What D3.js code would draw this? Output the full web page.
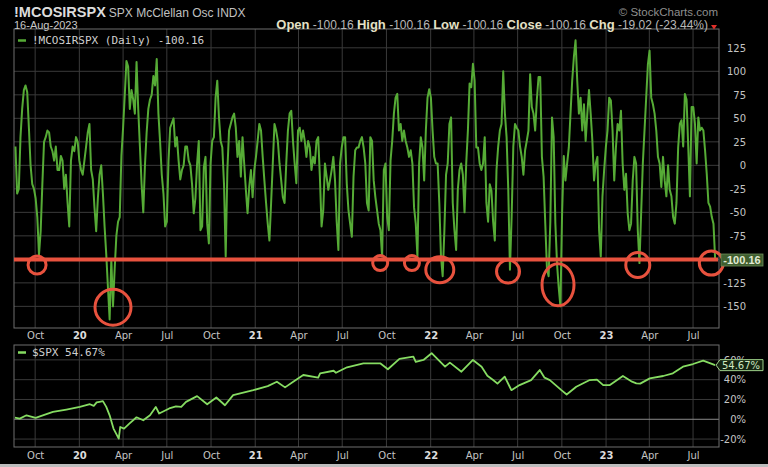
<!DOCTYPE html>
<head>
  <meta charset="utf-8" />
  <script src="https://d3js.org/d3.v7.min.js"></script>
  <style>
    body { margin: 0; background: #000; }
    svg { display: block; }
  </style>
</head>

<body>
  <div id="chart"></div>

  <script>
    // McClellan oscillator, two readings a week from 21-Aug-2019 to 16-Aug-2023
    const oscStart = "2019-08-21";
    const oscValues = [
      20, -30, -25, 30, 60, 80, 85, 78, 40, 0,
      -20, -25, -35, -55, -95, -70, -20, 25, 30, 37,
      35, 20, 15, 5, 20, -5, -5, 10, 5, -25,
      -10, -40, -65, 5, 20, 15, 30, 25, 5, -5,
      -10, 5, 20, 35, 44, -5, -15, -45, -70, -35,
      -10, 0, -30, -65, -95, -130, -164, -100, -150, -110,
      -75, -60, -55, 10, 40, 75, 111, 105, 60, 80,
      70, 55, 110, 60, 20, -20, -50, 0, 35, 60,
      70, 75, 95, 85, 113, 55, 25, -10, -30, -65,
      -60, 5, 40, 45, 50, 20, 30, 5, -15, -5,
      0, 20, 20, 5, 0, -20, -51, -35, 2, 26,
      -69, -65, -2, 9, -62, -83, 2, 26, 30, 72,
      90, 51, 26, 19, -20, -97, -5, 37, 44, 51,
      55, 40, 9, 26, -12, 30, 2, -26, -51, -23,
      -5, -34, -5, 9, 26, 44, 37, 9, -16, -40,
      -62, -80, -40, 2, 44, 37, 26, 2, -16, -34,
      -40, 2, 37, 55, 58, 26, 2, -19, 37, 40,
      26, 37, 26, 9, 26, 19, -5, 9, 2, 26,
      30, -12, -65, -48, 2, -12, -26, -16, -5, 9,
      -16, -60, -90, 2, 19, 30, 30, -20, -48, -62,
      -76, -12, 16, 19, 19, 26, 30, 19, 2, -40,
      -48, 30, 26, -16, -34, -48, -62, -69, -97, -5,
      2, -55, -69, 5, 26, 55, 72, 76, 37, 44,
      26, 37, 26, 19, 9, 16, 2, -45, -62, -97,
      2, 30, 19, -16, 37, 72, 81, 72, 37, 9,
      2, 2, -40, -97, -118, -70, -10, 2, 44, 51,
      -40, -69, -90, -26, -5, 2, -10, -50, 2, 37,
      87, 83, 108, 90, 19, 19, 2, -5, 2, 30,
      -40, -60, -20, -27, -60, -80, -5, 20, 37, 44,
      100, 55, 30, -26, -111, -55, 20, 44, 40, 37,
      20, 9, -10, 16, 26, 37, 97, 62, 55, 37,
      70, 94, 94, 9, -12, -62, -110, -118, -60, 51,
      30, -62, -105, -130, -150, -51, 10, -16, 2, 19,
      55, 90, 115, 133, 90, 55, 72, 37, 65, 26,
      55, 80, 55, 26, -16, 2, 9, -69, -97, -33,
      -5, 19, 37, 72, 69, 37, -16, 19, 44, 37,
      58, 2, -26, -9, -51, -69, -62, -16, 9, 2,
      -69, -104, -51, 2, 37, 72, 107, 122, 72, 65,
      55, 37, 9, 2, -23, 9, -16, -33, 0, -26,
      -33, -55, -62, -40, 19, 44, 48, 20, 76, 70,
      20, -33, 62, 62, 44, 2, 51, 37, 40, 37,
      16, -9, -40, -44, -55, -62, -100.16
    ];

    // $SPX, % change since the start of the chart
    const spxDates = [
      "2019-08-20", "2019-08-30", "2019-09-13", "2019-10-02", "2019-10-17", "2019-11-07",
      "2019-12-05", "2020-01-02", "2020-01-23", "2020-01-31", "2020-02-06", "2020-02-12",
      "2020-02-19", "2020-02-26", "2020-03-04", "2020-03-12", "2020-03-23", "2020-03-26",
      "2020-04-03", "2020-04-14", "2020-04-29", "2020-05-13", "2020-05-27", "2020-06-08",
      "2020-06-15", "2020-07-06", "2020-07-20", "2020-07-31", "2020-08-10", "2020-09-02",
      "2020-09-23", "2020-10-12", "2020-10-30", "2020-11-16", "2020-12-28", "2021-01-27",
      "2021-02-15", "2021-03-04", "2021-03-21", "2021-04-11", "2021-05-12", "2021-05-16",
      "2021-06-13", "2021-06-18", "2021-07-11", "2021-08-14", "2021-09-18", "2021-10-04",
      "2021-10-28", "2021-11-26", "2021-12-01", "2021-12-17", "2022-01-03", "2022-01-17",
      "2022-01-31", "2022-02-10", "2022-03-06", "2022-03-30", "2022-04-17", "2022-04-29",
      "2022-05-11", "2022-05-20", "2022-06-04", "2022-06-18", "2022-07-05", "2022-07-29",
      "2022-08-16", "2022-08-26", "2022-09-06", "2022-09-30", "2022-10-11", "2022-10-31",
      "2022-11-28", "2022-12-13", "2022-12-26", "2023-01-09", "2023-02-05", "2023-02-24",
      "2023-03-05", "2023-03-13", "2023-04-02", "2023-04-30", "2023-05-20", "2023-06-10",
      "2023-07-01", "2023-07-22", "2023-08-16"
    ];
    const spxPct = [
      1.7, 0.7, 4, 1.5, 4, 7.4,
      9.8, 12.5, 15.2, 13.5, 17, 17.6,
      18.3, 12.5, 4, -9.4, -19.6, -7.8,
      -9.4, -4.4, 2, -1, 4, 12.5,
      5.8, 10.9, 13, 12.5, 17.6, 23.4,
      15.2, 22, 14.2, 24.4, 29.4, 33.5,
      37.9, 32.2, 37.9, 44.7, 42, 46.4,
      49, 47, 52.5, 56.5, 56.5, 50.5,
      61, 63.2, 58, 59.9, 66.7, 59.9,
      53.1, 57.2, 48, 59.9, 53.1, 44,
      39.6, 36, 43, 29.4, 34.5, 39.6,
      49.7, 42, 39.6, 29.4, 25, 32.8,
      39.6, 40, 34.5, 34.5, 43.7, 38,
      36.2, 36, 41.3, 43.7, 46.4, 53.1,
      55.8, 59.2, 54.67
    ];

    // hand drawn red circles round the oversold lows
    const markDates = ["2019-10-05", "2020-03-11", "2021-09-18", "2021-11-23", "2022-01-20",
                       "2022-06-11", "2022-09-23", "2023-03-08", "2023-08-08"];
    const markValues = [-106, -151, -104, -104, -111, -113, -127, -106, -104];

    const oscTicks = [125, 100, 75, 50, 25, 0, -25, -50, -75, -100, -125, -150];
    const oscLabels = [125, 100, 75, 50, 25, 0, -25, -50, -75, -125, -150];
    const spxTicks = [60, 40, 20, 0, -20];
    const lastOsc = -100.16;
    const lastSpx = 54.67;

    const width = 768, height = 467;
    const left = 14, right = 719;
    const top1 = 29, bot1 = 328, top2 = 345, bot2 = 447;

    const parse = d3.timeParse("%Y-%m-%d");
    const t0 = parse(oscStart);
    // 84 hours = half a week between readings
    const osc = oscValues.map((v, i) => ({ date: d3.timeHour.offset(t0, 84 * i), v: v }));
    const spx = spxDates.map((d, i) => ({ date: parse(d), v: spxPct[i] }));

    const x = d3.scaleTime()
      .domain([parse("2019-08-18"), parse("2023-08-24")])
      .range([left, right]);
    const yOsc = d3.scaleLinear().domain([-173, 145]).range([bot1, top1]);
    const ySpx = d3.scaleLinear().domain([-28, 75]).range([bot2, top2]);

    const quarters = d3.timeMonth.every(3).range(parse("2019-10-01"), parse("2023-08-01"));
    const fmtQ = d => d.getMonth() === 0 ? d3.timeFormat("%y")(d) : d3.timeFormat("%b")(d);

    const svg = d3.select("#chart").append("svg")
      .attr("width", width).attr("height", height)
      .style("background", "#000");

    const gridColor = "#3a3a3a", frameColor = "#6e6e6e", labelColor = "#c4c4c4";

    // grids for both panels
    function grid(yTop, yBot, yScale, ticks) {
      const g = svg.append("g");
      g.selectAll(".v").data(quarters).join("line")
        .attr("x1", d => x(d)).attr("x2", d => x(d))
        .attr("y1", yTop).attr("y2", yBot)
        .attr("stroke", gridColor).attr("stroke-width", 1);
      g.selectAll(".h").data(ticks).join("line")
        .attr("x1", left).attr("x2", right)
        .attr("y1", d => yScale(d)).attr("y2", d => yScale(d))
        .attr("stroke", d => (yScale === ySpx && d === 0) ? "#8a8a8a" : gridColor)
        .attr("stroke-width", 1);
      g.append("rect")
        .attr("x", left).attr("y", yTop)
        .attr("width", right - left).attr("height", yBot - yTop)
        .attr("fill", "none").attr("stroke", frameColor);
    }
    grid(top1, bot1, yOsc, oscTicks);
    grid(top2, bot2, ySpx, spxTicks);

    // oscillator line
    svg.append("path")
      .datum(osc)
      .attr("fill", "none")
      .attr("stroke", "#56ab36")
      .attr("stroke-width", 2)
      .attr("stroke-linejoin", "round")
      .attr("d", d3.line().x(d => x(d.date)).y(d => yOsc(d.v)));

    // spx line
    svg.append("path")
      .datum(spx)
      .attr("fill", "none")
      .attr("stroke", "#86dc62")
      .attr("stroke-width", 1.8)
      .attr("stroke-linejoin", "round")
      .attr("d", d3.line().x(d => x(d.date)).y(d => ySpx(d.v)));

    // red annotations
    const red = "#e8523e";
    svg.append("line")
      .attr("x1", left).attr("x2", right - 1)
      .attr("y1", yOsc(lastOsc)).attr("y2", yOsc(lastOsc))
      .attr("stroke", red).attr("stroke-width", 4);

    const markRx = [9, 18, 7.5, 7.5, 14, 11.5, 16, 12, 12];
    const markRy = [9, 18, 7.5, 7.5, 13, 11.5, 21, 12.5, 12];
    svg.selectAll(".mark")
      .data(markDates)
      .join("ellipse")
      .attr("cx", d => x(parse(d)))
      .attr("cy", (d, i) => yOsc(markValues[i]))
      .attr("rx", (d, i) => markRx[i])
      .attr("ry", (d, i) => markRy[i])
      .attr("fill", "none")
      .attr("stroke", red)
      .attr("stroke-width", 3);

    // axes
    function xAxis(yPos, pad) {
      const g = svg.append("g")
        .attr("transform", "translate(0," + yPos + ")")
        .call(d3.axisBottom(x).tickValues(quarters).tickFormat(fmtQ).tickSize(0).tickPadding(pad));
      g.select(".domain").remove();
      g.selectAll("text")
        .attr("fill", d => d.getMonth() === 0 ? "#dcdcdc" : labelColor)
        .style("font-weight", d => d.getMonth() === 0 ? "bold" : "normal")
        .style("font-family", "DejaVu Sans")
        .style("font-size", "10px");
    }
    xAxis(bot1, 4);
    xAxis(bot2, 5);

    function yAxis(yScale, ticks, fmt) {
      const g = svg.append("g")
        .attr("transform", "translate(" + right + ",0)")
        .call(d3.axisRight(yScale).tickValues(ticks).tickFormat(fmt).tickSize(0));
      g.select(".domain").remove();
      g.selectAll("text")
        .attr("x", 27)
        .attr("text-anchor", "end")
        .attr("fill", labelColor)
        .style("font-family", "DejaVu Sans")
        .style("font-size", "10px");
    }
    yAxis(yOsc, oscLabels, d => d);
    yAxis(ySpx, spxTicks, d => d + "%");

    // last value tags
    const yl = yOsc(lastOsc);
    svg.append("rect")
      .attr("x", 721).attr("y", yl - 5.5).attr("width", 42).attr("height", 12)
      .attr("fill", "#3f5e2f").attr("stroke", "#6f8f5a").attr("stroke-width", 0.8);
    svg.append("text")
      .attr("x", 742).attr("y", yl + 4)
      .attr("text-anchor", "middle")
      .attr("fill", "#e2ead4")
      .style("font-family", "Liberation Sans").style("font-weight", "bold").style("font-size", "11px")
      .text(lastOsc.toFixed(2));

    const ys = ySpx(lastSpx);
    svg.append("path")
      .attr("d", d3.line()([[716, ys], [720, ys - 5.5], [763, ys - 5.5], [763, ys + 5.5], [720, ys + 5.5], [716, ys]]))
      .attr("fill", "#152512").attr("stroke", "#9ed08a").attr("stroke-width", 1);
    svg.append("text")
      .attr("x", 741).attr("y", ys + 4)
      .attr("text-anchor", "middle")
      .attr("fill", "#cfe8c0")
      .style("font-family", "DejaVu Sans").style("font-size", "10px")
      .text(lastSpx.toFixed(2) + "%");

    // legends inside the panels
    function legend(yPos, color, label, size) {
      svg.append("line")
        .attr("x1", 18).attr("x2", 26).attr("y1", yPos - 3.5).attr("y2", yPos - 3.5)
        .attr("stroke", color).attr("stroke-width", 2.5);
      svg.append("text")
        .attr("x", 32).attr("y", yPos)
        .attr("fill", "#cfcfcf")
        .style("font-family", "DejaVu Sans Mono").style("font-size", size)
        .text(label);
    }
    legend(44, "#56ab36", "!MCOSIRSPX (Daily) " + lastOsc.toFixed(2), "11px");
    legend(356, "#86dc62", "$SPX " + lastSpx.toFixed(2) + "%", "11px");

    // header
    svg.append("text")
      .attr("x", 14).attr("y", 17)
      .style("font-family", "Liberation Sans").style("font-size", "14.5px")
      .call(t => {
        t.append("tspan").attr("fill", "#dcdcdc").style("font-weight", "bold").text("!MCOSIRSPX");
        t.append("tspan").attr("fill", "#c0c0c0").attr("dx", 3).style("font-size", "12px").text("SPX McClellan Osc INDX");
      });
    svg.append("text")
      .attr("x", 14).attr("y", 29)
      .attr("fill", "#c8c8c8")
      .style("font-family", "Liberation Sans").style("font-size", "11px")
      .text("16-Aug-2023");
    svg.append("text")
      .attr("x", 718).attr("y", 16)
      .attr("text-anchor", "end")
      .attr("fill", "#8e8e8e")
      .style("font-family", "Liberation Sans").style("font-size", "11.5px")
      .text("© StockCharts.com");

    const quote = [
      ["Open", " -100.16 "], ["High", " -100.16 "], ["Low", " -100.16 "],
      ["Close", " -100.16 "], ["Chg", " -19.02 (-23.44%)"]
    ];
    const q = svg.append("text")
      .attr("x", 708).attr("y", 29)
      .attr("text-anchor", "end")
      .style("font-family", "Liberation Sans");
    quote.forEach(([k, v]) => {
      q.append("tspan").attr("fill", "#e4e0c6").style("font-weight", "bold").style("font-size", "13px").text(k);
      q.append("tspan").attr("fill", "#b8b8b8").style("font-size", "12px").text(v);
    });
    svg.append("path")
      .attr("d", d3.line()([[711, 25], [717, 25], [714, 29.5]]))
      .attr("fill", "#e0302a");

    // screenshot edge
    svg.append("rect").attr("x", 0).attr("y", 464).attr("width", width).attr("height", 3).attr("fill", "#bdbdbd");
  </script>
</body>
